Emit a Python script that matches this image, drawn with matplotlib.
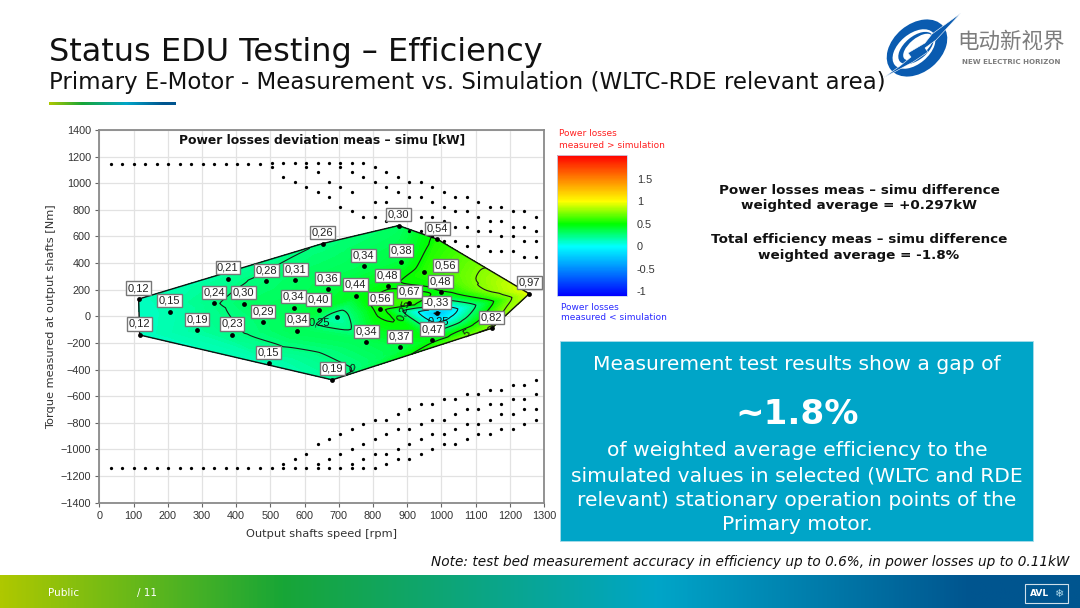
"""Status EDU testing slide: power losses deviation map, measured vs simulated."""

import numpy as np
import matplotlib
matplotlib.use("Agg")
import matplotlib.pyplot as plt
import matplotlib.tri as mtri
from matplotlib.cm import ScalarMappable
from matplotlib.collections import LineCollection
from matplotlib.colors import LinearSegmentedColormap, Normalize
from matplotlib.patches import Ellipse, Polygon, Rectangle

W, H = 1080, 608
ARIAL = "Liberation Sans"

# measured operating points with a label box
SPEED = [115, 118, 206, 286, 376, 335, 422, 388, 488, 479, 573, 568, 578, 641, 668, 653,
         749, 781, 495, 681, 773, 882, 843, 822, 906, 875, 988, 948, 998, 986, 973, 878,
         1147, 1257]
TORQUE = [130, -140, 35, -105, 283, 98, 95, -140, 262, -45, 272, 65, -108, 47, 205, 547,
          155, -195, -352, -477, 375, 410, 225, 52, 102, 682, 580, 332, 180, 22, -178, -232,
          -90, 170]
LOSS = [0.12, 0.12, 0.15, 0.19, 0.21, 0.24, 0.30, 0.23, 0.28, 0.29, 0.31, 0.34, 0.34, 0.40, 0.36, 0.26,
        0.44, 0.34, 0.15, 0.19, 0.34, 0.38, 0.48, 0.56, 0.67, 0.30, 0.54, 0.56, 0.48, -0.33, 0.47, 0.37,
        0.82, 0.97]

# the one point in the low pocket that has no box
EXTRA_SPEED = [694]
EXTRA_TORQUE = [-8]
EXTRA_LOSS = [0.13]

# unmeasured grid points, one entry per speed column
GRID_SPEEDS = [34, 67, 101, 134, 168, 201, 235, 268, 302, 336, 369, 403, 436, 470, 504,
               537, 571, 604, 638, 671, 705, 739, 772, 806, 839, 873, 906, 940, 974, 1007,
               1041, 1074, 1108, 1141, 1175, 1208, 1242, 1276]
UPPER = [[1147], [1147], [1147], [1147], [1147], [1147], [1147], [1147], [1147], [1147],
         [1147], [1147], [1147], [1147], [1150, 1125],
         [1150, 1050], [1150, 1010], [1150, 1125, 974], [1150, 1082, 934], [1150, 1010, 897],
         [1150, 1125, 974, 824], [1150, 1082, 934, 789], [1150, 1050, 749],
         [1125, 1010, 862, 749], [1082, 974, 862, 714], [1050, 934, 749],
         [1010, 897, 789, 641], [1010, 897, 749, 641], [974, 862, 749, 604],
         [934, 824, 714, 569], [897, 789, 674, 569], [897, 789, 674, 529],
         [862, 749, 641, 529], [824, 714, 641, 491], [824, 714, 604, 491],
         [789, 674, 604, 491], [789, 674, 569, 448], [749, 641, 569, 448]]
LOWER = [[-1140], [-1140], [-1140], [-1140], [-1140], [-1140], [-1140], [-1140], [-1140], [-1140],
         [-1140], [-1140], [-1140], [-1140], [-1140],
         [-1107, -1140], [-1070, -1140], [-1035, -1140], [-960, -1107, -1140], [-922, -1070, -1140],
         [-884, -1035, -1140], [-849, -997, -1107, -1140], [-812, -960, -1070, -1140],
         [-777, -922, -1035, -1140], [-777, -884, -1035, -1107], [-737, -849, -997, -1070],
         [-699, -849, -960, -1070], [-661, -812, -922, -1035], [-661, -777, -884, -997],
         [-624, -777, -884, -960], [-624, -737, -849, -960], [-586, -699, -812, -922],
         [-586, -699, -812, -884], [-554, -661, -777, -884], [-554, -661, -737, -849],
         [-516, -624, -737, -849], [-516, -624, -699, -812], [-479, -586, -699, -777]]

X_TICKS = list(range(0, 1301, 100))
Y_TICKS = list(range(-1400, 1401, 200))
CONTOUR_LEVELS = [-0.25, 0, 0.25, 0.5, 0.75]
CBAR_TICKS = [-1, -0.5, 0, 0.5, 1, 1.5]
CBAR_LABELS = ["-1", "-0.5", "0", "0.5", "1", "1.5"]

# (speed, torque, text, rotation) of the contour labels on the map
CONTOUR_TEXT = [(643, -47, "0,25", 0), (889, 47, "0,25", 72), (991, -35, "0,25", 0),
                (738, -397, "0", -15), (1074, -132, "5", 30)]


def px_axes(fig, left, top, right, bottom):
    return fig.add_axes([left / W, 1 - bottom / H, (right - left) / W, (bottom - top) / H])


def gradient(ax, extent, stops):
    cmap = LinearSegmentedColormap.from_list("band", stops)
    ax.imshow(np.linspace(0, 1, 512)[None, :], cmap=cmap, extent=extent, aspect="auto", zorder=1)


def draw_slide(bg):
    bg.set_xlim(0, W)
    bg.set_ylim(H, 0)
    bg.axis("off")

    bg.text(49, 53, "Status EDU Testing – Efficiency", fontsize=23, color="#111111", va="center")
    bg.text(49, 82, "Primary E-Motor - Measurement vs. Simulation (WLTC-RDE relevant area)",
            fontsize=16.5, color="#111111", va="center")

    band = [(0, "#aec800"), (0.26, "#18a636"), (0.61, "#00a5c8"), (0.9, "#00558f"), (1, "#00558f")]
    gradient(bg, (49, 176, 105.5, 102.5), band)
    gradient(bg, (0, W, H, 575), band)
    bg.set_xlim(0, W)
    bg.set_ylim(H, 0)

    bg.text(48, 593, "Public", fontsize=7.5, color="white", va="center")
    bg.text(137, 593, "/ 11", fontsize=7.5, color="white", va="center")
    bg.add_patch(Rectangle((1025, 584), 43, 19, fc="none", ec="#cfe0ea", lw=0.8, zorder=3))
    bg.text(1040, 594, "AVL", fontsize=6.5, fontweight="bold", color="white", ha="center", va="center")
    bg.text(1059, 594, "\u2744", fontsize=8, color="#a9d6e8", ha="center", va="center")

    # right hand side texts
    for y, txt in [(190, "Power losses meas – simu difference"), (206, "weighted average = +0.297kW"),
                   (239, "Total efficiency meas – simu difference"), (255, "weighted average = -1.8%")]:
        bg.text(859, y, txt, fontsize=9.7, fontweight="bold", color="#111111", ha="center", va="center")

    bg.add_patch(Rectangle((560, 341), 473, 200, fc="#00a5c8", ec="#a8dcea", lw=0.6, zorder=2))
    bg.text(797, 365, "Measurement test results show a gap of", fontsize=14.6, color="white",
            ha="center", va="center", zorder=3)
    bg.text(797, 414, "~1.8%", fontsize=24.6, fontweight="bold", color="white", ha="center", va="center", zorder=3)
    for y, txt in [(451, "of weighted average efficiency to the"),
                   (476, "simulated values in selected (WLTC and RDE"),
                   (500, "relevant) stationary operation points of the"),
                   (524, "Primary motor.")]:
        bg.text(797, y, txt, fontsize=14.6, color="white", ha="center", va="center", zorder=3)

    bg.text(1069, 562, "Note: test bed measurement accuracy in efficiency up to 0.6%, in power losses up to 0.11kW",
            fontsize=9.85, style="italic", color="#111111", ha="right", va="center")

    bg.text(559, 134, "Power losses", fontsize=6.45, color="#ff2020", va="center")
    bg.text(559, 145, "measured > simulation", fontsize=6.45, color="#ff2020", va="center")
    bg.text(561, 307, "Power losses", fontsize=6.45, color="#2a2aff", va="center")
    bg.text(561, 318, "measured < simulation", fontsize=6.45, color="#2a2aff", va="center")

    # logo, roughly
    blue = "#0a5bb0"
    bg.add_patch(Ellipse((917, 48), 68, 48, angle=-40, fc=blue, ec="none", zorder=3))
    bg.add_patch(Ellipse((914, 49), 50, 30, angle=-40, fc="white", ec="none", zorder=3))
    bg.add_patch(Ellipse((916, 48), 42, 23, angle=-40, fc=blue, ec="none", zorder=3))
    bg.add_patch(Ellipse((918, 47), 36, 17, angle=-40, fc="white", ec="none", zorder=3))
    bg.add_patch(Polygon([(883, 78), (900, 66), (911, 57), (908, 53), (925, 43), (932, 34), (961, 13),
                          (936, 40), (925, 48), (928, 52), (913, 62), (898, 70)],
                         fc=blue, ec="white", lw=0.4, zorder=4))
    bg.text(1011, 42, "电动新视界", fontsize=15.5, color="#7d7d7d", ha="center", va="center",
            family=["Noto Sans CJK SC", "DejaVu Sans"])
    bg.text(1011, 62, "NEW ELECTRIC HORIZON", fontsize=5.1, fontweight="bold", color="#7d7d7d",
            ha="center", va="center")


def smooth_on_mesh(tri, z, rounds, n_pinned):
    # neighbour averaging over the refined mesh, takes the creases out of the linear field.
    # The refiner keeps the measured points first, those stay at their own value.
    e = tri.edges
    z = z.copy()
    pinned = z[:n_pinned].copy()
    count = np.bincount(e.ravel(), minlength=len(z))
    for _ in range(rounds):
        total = np.zeros_like(z)
        np.add.at(total, e[:, 0], z[e[:, 1]])
        np.add.at(total, e[:, 1], z[e[:, 0]])
        z = 0.5 * z + 0.5 * total / count
        z[:n_pinned] = pinned
    return z


def draw_map(ax, cmap, norm):
    speed = np.array(SPEED + EXTRA_SPEED, dtype=float)
    torque = np.array(TORQUE + EXTRA_TORQUE, dtype=float)
    loss = np.array(LOSS + EXTRA_LOSS)

    tri = mtri.Triangulation(speed, torque)
    refiner = mtri.UniformTriRefiner(tri)
    fine, fine_z = refiner.refine_field(loss, mtri.LinearTriInterpolator(tri, loss), subdiv=4)
    fine_z = smooth_on_mesh(fine, fine_z, 10, len(speed))

    ax.tricontourf(fine, fine_z, levels=np.linspace(-1.1, 2.03, 160), cmap=cmap, norm=norm, zorder=2)
    ax.tricontour(fine, fine_z, levels=CONTOUR_LEVELS, colors="#1a1a1a", linewidths=0.8, zorder=3)

    # outline of the measured area: triangle edges without a neighbour
    edges = []
    for t, nb in zip(tri.triangles, tri.neighbors):
        for i in range(3):
            if nb[i] == -1:
                a, b = t[i], t[(i + 1) % 3]
                edges.append([(speed[a], torque[a]), (speed[b], torque[b])])
    ax.add_collection(LineCollection(edges, colors="#111111", linewidths=1.0, zorder=4))

    for col, up, low in zip(GRID_SPEEDS, UPPER, LOWER):
        vals = up + low
        ax.scatter([col] * len(vals), vals, s=5.5, c="black", linewidths=0, zorder=4)
    ax.scatter(speed, torque, s=12, c="black", linewidths=0, zorder=5)

    for x, y, txt, rot in CONTOUR_TEXT:
        ax.text(x, y, txt, fontsize=8, family=ARIAL, color="#111111", rotation=rot,
                ha="center", va="center", zorder=5)

    for x, y, v in zip(SPEED, TORQUE, LOSS):
        # 0,56 at the right side of the hill sits beside its point
        off = (22, 7) if (x, y) == (948, 332) else (0, 11)
        ax.annotate(f"{v:.2f}".replace(".", ","), (x, y), xytext=off, textcoords="offset pixels",
                    fontsize=8, family=ARIAL, color="#222222", ha="center", va="center", zorder=6,
                    bbox=dict(boxstyle="square,pad=0.14", fc="white", ec="#777777", lw=1.0))

    ax.set_xlim(0, 1300)
    ax.set_ylim(-1400, 1400)
    ax.set_xticks(X_TICKS)
    ax.set_yticks(Y_TICKS)
    ax.tick_params(labelsize=7.8, length=3, width=0.8, color="#666666", labelcolor="#333333", pad=3)
    for lab in ax.get_xticklabels() + ax.get_yticklabels():
        lab.set_family(ARIAL)
    ax.grid(True, color="#e2e2e2", lw=0.9, zorder=0)
    ax.set_axisbelow(True)
    for s in ax.spines.values():
        s.set_color("#8a8a8a")
        s.set_linewidth(1.3)
    ax.set_xlabel("Output shafts speed [rpm]", fontsize=8.2, color="#333333", labelpad=6)
    ax.set_ylabel("Torque measured at output shafts [Nm]", fontsize=8.2, color="#333333", labelpad=3)
    ax.text(651, 1325, "Power losses deviation meas – simu [kW]", fontsize=8.95, fontweight="bold",
            color="#111111", ha="center", va="center", zorder=6)


def main():
    fig = plt.figure(figsize=(W / 100, H / 100), dpi=100)
    bg = fig.add_axes([0, 0, 1, 1])
    draw_slide(bg)

    cmap = LinearSegmentedColormap.from_list(
        "losses",
        [(0, "#0000ff"), (1.1 / 3.13, "#00ffff"), (1.6 / 3.13, "#00ff00"), (2.1 / 3.13, "#ffff00"), (1, "#ff0000")],
    )
    norm = Normalize(-1.1, 2.03)

    ax = px_axes(fig, 99.3, 130, 544, 502.7)
    draw_map(ax, cmap, norm)

    cax = px_axes(fig, 557, 155, 627, 296)
    cbar = fig.colorbar(ScalarMappable(norm=norm, cmap=cmap), cax=cax)
    cbar.set_ticks(CBAR_TICKS, labels=CBAR_LABELS)
    cbar.ax.tick_params(length=0, labelsize=7.8, labelcolor="#333333", pad=7)
    for lab in cbar.ax.get_yticklabels():
        lab.set_family(ARIAL)
    cbar.outline.set_edgecolor("#c9d8ee")
    cbar.outline.set_linewidth(0.6)

    fig.savefig("out.png", dpi=100)
    plt.close(fig)


if __name__ == "__main__":
    main()
